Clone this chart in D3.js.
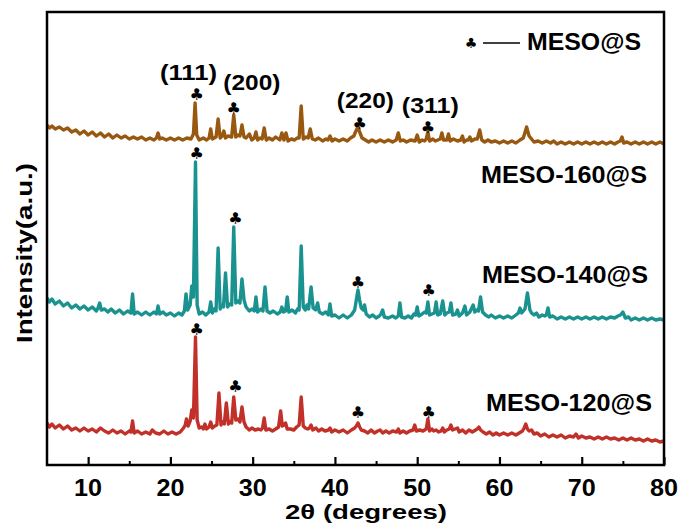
<!DOCTYPE html>
<html>
<head>
<meta charset="utf-8">
<script src="https://cdn.jsdelivr.net/npm/d3@7"></script>
<style>
  body { margin: 0; background: #fff; }
  text { font-family: "Liberation Sans", Arial, sans-serif; font-weight: bold; fill: #000; }
</style>
</head>
<body>
<svg id="chart" width="683" height="531"></svg>
<script>
// 2theta (deg), intensity (a.u., traces stacked with offsets)
var mesoS = [[5.0,340],[5.3,337],[5.6,339],[6.0,336],[6.5,338],[7.0,335],[7.5,337],[8.0,333],[8.5,335],[9.0,331],
  [9.5,334],[10.0,330],[10.5,333],[11.0,329],[11.5,332],[12.0,328],[12.5,331],[13.0,327],[13.5,330],[14.0,327],
  [14.5,329],[15.0,326],[15.5,328],[16.0,326],[16.5,328],[17.0,325],[17.5,327],[18.0,325],[18.3,327],[18.5,332],
  [18.7,326],[19.0,327],[19.5,325],[20.0,327],[20.5,325],[21.0,327],[21.5,325],[22.0,327],[22.5,326],[22.8,331],
  [23.0,362],[23.2,330],[23.5,325],[24.0,327],[24.4,325],[24.7,327],[24.9,336],[25.1,326],[25.55,328],[25.8,346],
  [26.05,327],[26.3,329],[26.5,334],[26.7,327],[27.0,329],[27.45,328],[27.7,350],[27.95,328],[28.2,330],[28.45,329],
  [28.7,340],[28.95,328],[29.2,327],[29.6,331],[29.9,325],[30.2,327],[30.4,333],[30.6,325],[30.9,327],[31.15,326],
  [31.4,337],[31.65,325],[32.0,327],[32.4,325],[32.8,328],[33.3,325],[33.55,332],[33.8,325],[34.05,332],[34.3,324],
  [34.7,326],[35.1,325],[35.4,327],[35.65,327],[35.9,359],[36.15,326],[36.5,328],[36.75,327],[37.0,336],[37.25,326],
  [37.6,325],[38.0,327],[38.5,324],[38.9,326],[39.15,325],[39.4,329],[39.65,324],[40.0,326],[40.5,324],[41.0,326],
  [41.5,324],[41.9,327],[42.3,329],[42.55,334],[42.8,338],[43.05,332],[43.3,327],[43.7,325],[44.1,323],[44.5,325],
  [45.0,323],[45.5,325],[46.0,323],[46.5,325],[47.0,323],[47.45,325],[47.7,332],[47.95,324],[48.3,325],[48.7,323],
  [49.2,325],[49.75,324],[50.0,330],[50.25,323],[50.6,325],[50.9,324],[51.1,326],[51.3,333],[51.5,324],[51.9,326],
  [52.2,324],[52.8,326],[53.0,332],[53.2,325],[53.6,325],[53.8,331],[54.0,324],[54.4,326],[54.9,324],[55.3,325],
  [55.5,329],[55.7,323],[56.0,325],[56.2,325],[56.4,328],[56.6,324],[57.0,326],[57.3,326],[57.6,335],[57.85,325],
  [58.2,323],[58.6,325],[59.0,323],[59.5,324],[60.0,322],[60.5,324],[61.0,322],[61.5,324],[62.0,322],[62.5,325],
  [62.9,327],[63.3,338],[63.6,329],[63.9,326],[64.2,323],[64.7,324],[65.2,322],[65.7,324],[66.2,322],[66.6,324],
  [67.0,321],[67.5,323],[68.0,321],[68.5,323],[69.0,321],[69.5,323],[70.0,321],[70.5,323],[71.0,321],[71.5,323],
  [72.0,321],[72.5,323],[73.0,321],[73.5,323],[74.0,321],[74.4,323],[74.7,324],[74.9,328],[75.1,322],[75.5,323],
  [76.0,321],[76.5,323],[77.0,321],[77.5,323],[78.0,321],[78.5,323],[79.0,321],[79.5,323],[80.0,321]];

var meso140 = [[5.0,167],[5.3,163],[5.6,166],[6.0,161],[6.5,164],[7.0,159],[7.5,162],[8.0,157],[8.5,160],[9.0,156],
  [9.5,159],[10.0,155],[10.5,158],[11.0,154],[11.2,157],[11.4,162],[11.6,155],[12.0,156],[12.4,153],[12.8,156],
  [13.3,152],[13.8,155],[14.3,151],[14.8,154],[15.2,152],[15.4,171],[15.6,151],[16.0,153],[16.5,150],[17.0,153],
  [17.5,150],[18.0,153],[18.3,151],[18.5,159],[18.7,151],[19.1,153],[19.5,150],[20.0,152],[20.5,149],[21.0,152],
  [21.4,150],[21.7,154],[21.9,171],[22.1,155],[22.4,160],[22.6,179],[22.8,168],[23.05,303],[23.25,160],[23.5,151],
  [23.9,153],[24.3,150],[24.7,153],[24.9,163],[25.1,152],[25.35,156],[25.55,154],[25.8,217],[26.05,156],[26.25,160],
  [26.45,158],[26.7,192],[26.95,158],[27.2,161],[27.45,160],[27.7,238],[27.95,162],[28.2,164],[28.45,162],[28.7,186],
  [28.95,165],[29.2,158],[29.6,154],[29.9,156],[30.2,154],[30.4,168],[30.6,153],[31.0,156],[31.25,154],[31.5,178],
  [31.75,154],[32.1,152],[32.5,154],[33.0,151],[33.35,153],[33.55,158],[33.75,153],[34.0,154],[34.2,168],[34.4,153],
  [34.8,155],[35.2,152],[35.45,156],[35.65,155],[35.9,219],[36.15,158],[36.4,155],[36.6,160],[36.8,156],[37.1,178],
  [37.35,157],[37.65,155],[37.9,162],[38.1,153],[38.5,151],[38.9,153],[39.2,150],[39.4,161],[39.6,149],[40.0,150],
  [40.5,147],[41.0,150],[41.5,147],[42.0,150],[42.4,155],[42.6,165],[42.8,175],[43.0,165],[43.2,157],[43.45,155],
  [43.6,160],[43.8,151],[44.2,148],[44.6,150],[45.0,147],[45.4,149],[45.6,151],[45.8,155],[46.0,148],[46.5,147],
  [47.0,149],[47.4,147],[47.7,149],[47.9,162],[48.1,148],[48.5,147],[48.9,149],[49.3,147],[49.6,151],[49.8,150],
  [50.0,158],[50.2,149],[50.6,151],[50.9,153],[51.1,152],[51.3,163],[51.5,150],[51.8,151],[52.1,152],[52.3,163],
  [52.5,150],[52.8,151],[53.1,164],[53.35,150],[53.6,152],[53.9,153],[54.1,162],[54.3,150],[54.7,151],[54.9,155],
  [55.1,149],[55.5,152],[55.8,159],[56.0,150],[56.4,153],[56.8,160],[57.0,153],[57.25,155],[57.45,154],[57.7,168],
  [57.95,153],[58.3,150],[58.7,148],[59.0,150],[59.5,147],[60.0,149],[60.5,147],[61.0,149],[61.5,147],[62.0,150],
  [62.3,152],[62.5,157],[62.7,152],[62.9,154],[63.1,156],[63.4,172],[63.7,155],[63.9,152],[64.2,150],[64.5,152],
  [64.8,148],[65.2,150],[65.5,149],[65.7,150],[65.9,157],[66.1,148],[66.5,149],[67.0,146],[67.5,148],[68.0,146],
  [68.5,148],[69.0,146],[69.5,148],[70.0,146],[70.5,148],[71.0,146],[71.5,148],[72.0,146],[72.5,148],[73.0,146],
  [73.5,148],[74.0,147],[74.4,149],[74.7,150],[75.0,153],[75.3,147],[75.7,148],[76.0,145],[76.5,147],[77.0,145],
  [77.5,147],[78.0,145],[78.5,147],[79.0,145],[79.5,146],[80.0,145]];

var meso120 = [[5.0,42],[5.3,38],[5.6,41],[6.0,37],[6.5,40],[7.0,36],[7.5,39],[8.0,35],[8.5,37],[9.0,34],
  [9.5,37],[10.0,34],[10.5,36],[11.0,33],[11.5,37],[12.0,34],[12.5,32],[13.0,35],[13.5,32],[14.0,34],
  [14.5,31],[15.0,34],[15.2,33],[15.4,44],[15.6,32],[16.0,34],[16.5,31],[17.0,33],[17.5,31],[17.8,35],
  [18.2,32],[18.7,31],[19.2,34],[19.7,31],[20.2,33],[20.7,31],[21.2,33],[21.6,37],[21.8,40],[21.95,46],
  [22.15,39],[22.4,44],[22.6,55],[22.8,47],[23.05,128],[23.25,45],[23.5,37],[23.8,38],[24.0,36],[24.2,41],
  [24.4,36],[24.7,38],[24.9,43],[25.1,37],[25.4,39],[25.65,40],[25.9,72],[26.15,40],[26.35,43],[26.55,41],
  [26.8,62],[27.05,41],[27.25,43],[27.45,42],[27.7,68],[27.95,45],[28.2,46],[28.45,43],[28.7,58],[28.95,43],
  [29.2,38],[29.6,35],[29.9,37],[30.3,35],[30.7,36],[31.0,35],[31.2,37],[31.4,47],[31.6,35],[32.0,36],
  [32.4,34],[32.8,36],[33.15,38],[33.4,54],[33.6,39],[33.85,40],[34.0,42],[34.2,36],[34.6,36],[35.0,35],
  [35.35,38],[35.65,40],[35.9,68],[36.15,39],[36.4,37],[36.7,36],[36.9,37],[37.1,40],[37.3,35],[37.7,37],
  [38.0,34],[38.4,36],[38.8,34],[39.2,35],[39.4,37],[39.6,33],[40.0,35],[40.5,33],[41.0,35],[41.5,32],
  [42.0,35],[42.4,37],[42.6,39],[42.8,42],[43.0,38],[43.2,35],[43.6,34],[44.0,32],[44.4,35],[44.8,32],
  [45.2,34],[45.5,35],[45.8,32],[46.2,34],[46.6,32],[47.0,34],[47.5,33],[47.7,36],[47.9,32],[48.3,34],
  [48.7,32],[49.1,34],[49.5,35],[49.7,40],[49.9,34],[50.3,35],[50.7,34],[51.1,36],[51.3,46],[51.5,34],
  [51.8,36],[52.0,34],[52.3,35],[52.6,33],[52.9,34],[53.1,37],[53.3,33],[53.6,35],[53.9,36],[54.1,40],
  [54.3,35],[54.6,36],[54.9,37],[55.1,33],[55.5,35],[55.9,32],[56.3,35],[56.7,33],[57.1,35],[57.3,36],
  [57.5,38],[57.7,35],[58.0,33],[58.4,31],[58.8,33],[59.2,30],[59.6,32],[60.0,30],[60.5,32],[61.0,30],
  [61.5,32],[62.0,30],[62.4,32],[62.8,34],[63.0,37],[63.2,41],[63.4,36],[63.6,34],[63.9,35],[64.2,31],
  [64.6,32],[65.0,29],[65.5,31],[66.0,28],[66.5,30],[67.0,28],[67.5,30],[68.0,27],[68.5,29],[69.0,28],
  [69.3,31],[69.6,27],[70.0,29],[70.5,27],[71.0,28],[71.5,26],[72.0,28],[72.5,26],[73.0,28],[73.5,26],
  [74.0,27],[74.5,25],[75.0,27],[75.5,25],[76.0,27],[76.5,25],[77.0,26],[77.5,24],[78.0,26],[78.5,24],
  [79.0,25],[79.5,23],[80.0,24]];

// club markers (2theta, intensity level)
var clubsS   = [[23.2,371],[27.7,357],[43.0,342],[51.3,338]];
var clubs140 = [[23.2,312],[27.9,247],[42.8,183],[51.4,175]];
var clubs120 = [[23.2,136],[27.9,79],[42.8,53],[51.4,53]];

var planes = [["(111)",22.2,385],["(200)",29.9,375],["(220)",43.7,357],["(311)",51.6,352]];
var xTicks = [10,20,30,40,50,60,70,80];
var minorTicks = [15,25,35,45,55,65,75];

var svg = d3.select("#chart");
var margin = {top: 12, right: 19, bottom: 66, left: 47};
var width = 683 - margin.left - margin.right;
var height = 531 - margin.top - margin.bottom;

var x = d3.scaleLinear().domain([5, 80]).range([margin.left, margin.left + width]);
var y = d3.scaleLinear().domain([0, height]).range([margin.top + height, margin.top]);

var line = d3.line()
    .x(function(d){ return x(d[0]); })
    .y(function(d){ return y(d[1]); });

var series = [
  {data: meso120, color: "#c2302a"},
  {data: meso140, color: "#1a9290"},
  {data: mesoS,   color: "#985810"}
];

svg.append("g").selectAll("path")
    .data(series)
    .enter().append("path")
    .attr("d", function(d){ return line(d.data); })
    .attr("fill", "none")
    .attr("stroke", function(d){ return d.color; })
    .attr("stroke-width", 3.4)
    .attr("stroke-linejoin", "round");

// clubs
svg.append("g").selectAll("text")
    .data(clubsS.concat(clubs140, clubs120))
    .enter().append("text")
    .attr("x", function(d){ return x(d[0]); })
    .attr("y", function(d){ return y(d[1]); })
    .attr("text-anchor", "middle")
    .attr("dominant-baseline", "central")
    .style("font-family", "DejaVu Sans")
    .style("font-weight", "normal")
    .style("font-size", "16px")
    .text("\u2663");

// plane labels
svg.append("g").selectAll("text")
    .data(planes)
    .enter().append("text")
    .attr("x", function(d){ return x(d[1]); })
    .attr("y", function(d){ return y(d[2]); })
    .attr("text-anchor", "middle")
    .attr("textLength", 57)
    .attr("lengthAdjust", "spacingAndGlyphs")
    .style("font-size", "22px")
    .text(function(d){ return d[0]; });

// sample labels
var sampleLabels = [["MESO-160@S", 481, 183], ["MESO-140@S", 482, 283], ["MESO-120@S", 486, 411]];
svg.append("g").selectAll("text")
    .data(sampleLabels)
    .enter().append("text")
    .attr("x", function(d){ return d[1]; })
    .attr("y", function(d){ return d[2]; })
    .attr("textLength", 166)
    .attr("lengthAdjust", "spacingAndGlyphs")
    .style("font-size", "23px")
    .text(function(d){ return d[0]; });

// legend
svg.append("text").attr("x", 471).attr("y", 43)
    .attr("text-anchor", "middle").attr("dominant-baseline", "central")
    .style("font-family", "DejaVu Sans").style("font-weight", "normal").style("font-size", "14px")
    .text("\u2663");
svg.append("line").attr("x1", 483).attr("x2", 520).attr("y1", 43).attr("y2", 43)
    .attr("stroke", "#000").attr("stroke-width", 1.6);
svg.append("text").attr("x", 527).attr("y", 50)
    .attr("textLength", 114).attr("lengthAdjust", "spacingAndGlyphs")
    .style("font-size", "23px")
    .text("MESO@S");

// frame
svg.append("rect")
    .attr("x", margin.left).attr("y", margin.top)
    .attr("width", width).attr("height", height)
    .attr("fill", "none").attr("stroke", "#000").attr("stroke-width", 2.5);

// x ticks, pointing inward
var xAxis = d3.axisBottom(x).tickValues(xTicks).tickSize(-8).tickPadding(0).tickFormat("");
var gx = svg.append("g").attr("transform", "translate(0," + (margin.top + height) + ")").call(xAxis);
gx.select(".domain").remove();
gx.selectAll("line").attr("stroke-width", 2.2);

var minor = d3.axisBottom(x).tickValues(minorTicks).tickSize(-4).tickFormat("");
var gm = svg.append("g").attr("transform", "translate(0," + (margin.top + height) + ")").call(minor);
gm.select(".domain").remove();
gm.selectAll("line").attr("stroke-width", 2);

svg.append("g").selectAll("text")
    .data(xTicks)
    .enter().append("text")
    .attr("x", function(d){ return x(d); })
    .attr("y", 496)
    .attr("text-anchor", "middle")
    .attr("textLength", 28)
    .attr("lengthAdjust", "spacingAndGlyphs")
    .style("font-size", "23px")
    .text(function(d){ return d; });

// axis titles
svg.append("text")
    .attr("x", 366).attr("y", 519)
    .attr("text-anchor", "middle")
    .attr("textLength", 162).attr("lengthAdjust", "spacingAndGlyphs")
    .style("font-size", "21px")
    .text("2\u03b8 (degrees)");

svg.append("text")
    .attr("transform", "translate(32,253) rotate(-90)")
    .attr("text-anchor", "middle")
    .attr("textLength", 180).attr("lengthAdjust", "spacingAndGlyphs")
    .style("font-size", "22px")
    .text("Intensity(a.u.)");
</script>
</body>
</html>
